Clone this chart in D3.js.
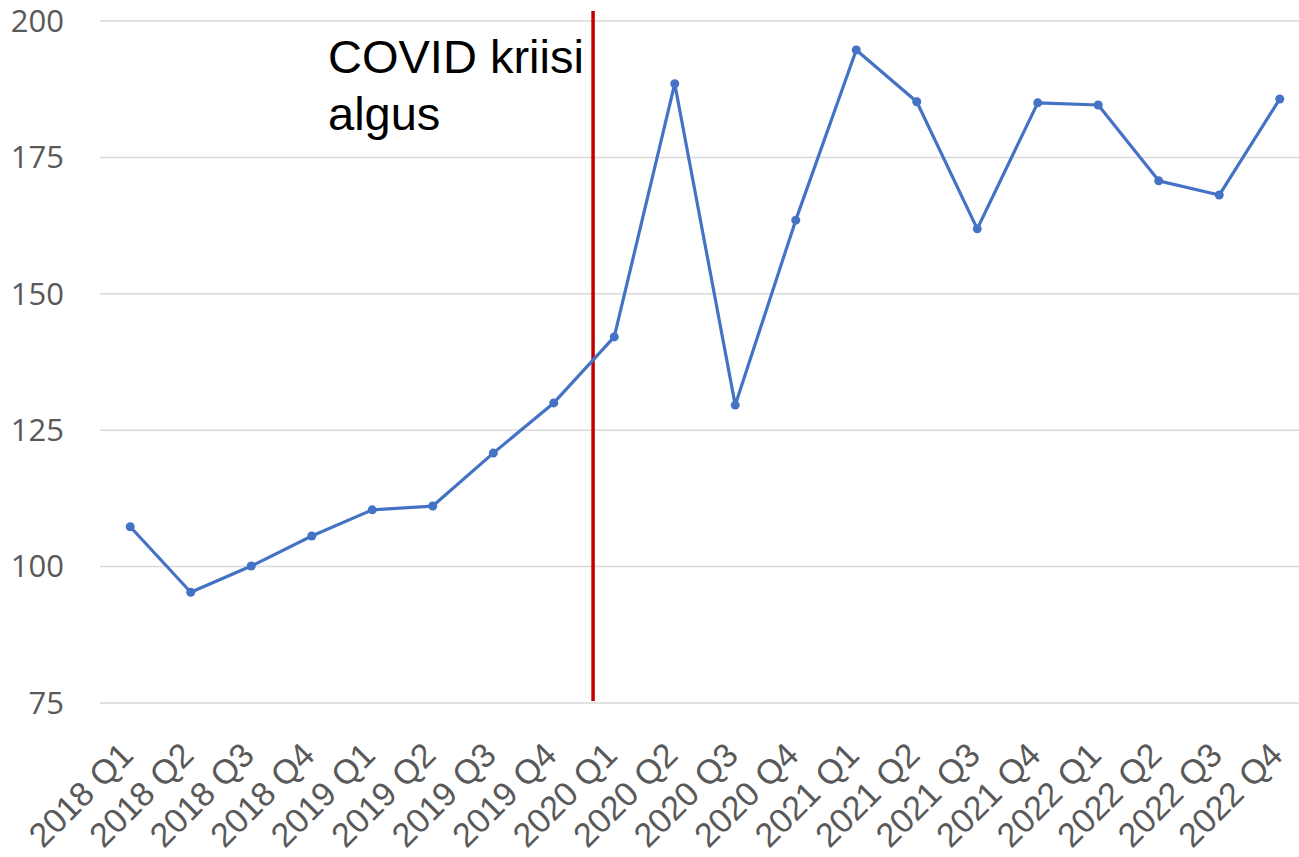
<!DOCTYPE html>
<html>
<head>
<meta charset="utf-8">
<script src="https://cdn.jsdelivr.net/npm/d3@7"></script>
<style>
  body { margin: 0; background: #fff; }
  svg { display: block; }
</style>
</head>
<body>
<div id="chart"></div>
<script>
// Data
const quarters = ['2018 Q1', '2018 Q2', '2018 Q3', '2018 Q4',
                  '2019 Q1', '2019 Q2', '2019 Q3', '2019 Q4',
                  '2020 Q1', '2020 Q2', '2020 Q3', '2020 Q4',
                  '2021 Q1', '2021 Q2', '2021 Q3', '2021 Q4',
                  '2022 Q1', '2022 Q2', '2022 Q3', '2022 Q4'];
const values = [107.3, 95.3, 100.1, 105.6,
                110.4, 111.1, 120.8, 130.0,
                142.1, 188.5, 129.6, 163.5,
                194.7, 185.2, 161.9, 185.0,
                184.6, 170.7, 168.1, 185.7];
const yTicks = [75, 100, 125, 150, 175, 200];
const covidQuarter = '2020 Q1';
const covidLabel = ['COVID kriisi', 'algus'];

const width = 1299, height = 857;

const svg = d3.select('#chart')
    .append('svg')
    .attr('width', width)
    .attr('height', height);

const x = d3.scaleBand()
    .domain(quarters)
    .range([100, 1310]);

const y = d3.scaleLinear()
    .domain([75, 200])
    .range([703, 21]);

const cx = d => x(d) + x.bandwidth() / 2;

// gridlines
svg.append('g')
    .selectAll('line')
    .data(yTicks)
    .enter().append('line')
    .attr('x1', 100)
    .attr('x2', width)
    .attr('y1', d => y(d))
    .attr('y2', d => y(d))
    .attr('stroke', '#d9d9d9')
    .attr('stroke-width', 1.5);

// y labels
svg.append('g')
    .selectAll('text')
    .data(yTicks)
    .enter().append('text')
    .attr('x', 64)
    .attr('y', d => y(d))
    .attr('dy', '0.35em')
    .attr('text-anchor', 'end')
    .style('font-family', 'Open Sans, sans-serif')
    .style('font-size', '31px')
    .attr('fill', '#595959')
    .text(d => d);

// x labels
svg.append('g')
    .selectAll('text')
    .data(quarters)
    .enter().append('text')
    .attr('transform', d => `translate(${cx(d) + 5},757) rotate(-45)`)
    .attr('text-anchor', 'end')
    .style('font-family', 'Liberation Sans, Arial, sans-serif')
    .style('font-size', '34px')
    .attr('fill', '#595959')
    .text(d => d);

// covid line
const covidX = x(covidQuarter) + x.bandwidth() * 0.15;
svg.append('line')
    .attr('x1', covidX)
    .attr('x2', covidX)
    .attr('y1', 11)
    .attr('y2', 701)
    .attr('stroke', '#c00000')
    .attr('stroke-width', 3.5);

svg.append('g')
    .selectAll('text')
    .data(covidLabel)
    .enter().append('text')
    .attr('x', 328)
    .attr('y', (d, i) => 73 + i * 57)
    .style('font-family', 'Liberation Sans, Arial, sans-serif')
    .style('font-size', '47px')
    .attr('fill', '#000')
    .text(d => d);

// series
const line = d3.line()
    .x((d, i) => cx(quarters[i]))
    .y(d => y(d));

svg.append('path')
    .datum(values)
    .attr('fill', 'none')
    .attr('stroke', '#4472c4')
    .attr('stroke-width', 3.2)
    .attr('stroke-linejoin', 'round')
    .attr('d', line);

svg.append('g')
    .selectAll('circle')
    .data(values)
    .enter().append('circle')
    .attr('cx', (d, i) => cx(quarters[i]))
    .attr('cy', d => y(d))
    .attr('r', 4.5)
    .attr('fill', '#4472c4');
</script>
</body>
</html>
